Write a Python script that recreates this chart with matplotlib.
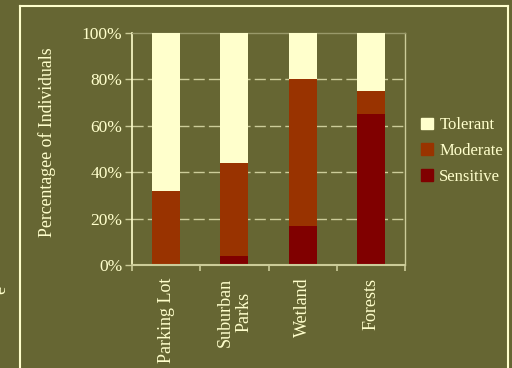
import matplotlib
matplotlib.use('Agg')
import matplotlib.pyplot as plt
import numpy as np
from matplotlib.lines import Line2D
from matplotlib.patches import Patch

plt.rcParams['font.family'] = ['Liberation Serif', 'DejaVu Serif']

sites = ['Parking Lot', 'Suburban\nParks', 'Wetland', 'Forests']
sensitive = [0, 4, 17, 65]
moderate = [32, 40, 63, 10]
tolerant = [68, 56, 20, 25]

bg = '#666633'
txt = '#FFFFCC'
c_tol = '#FFFFCC'
c_mod = '#993300'
c_sen = '#800000'
grid_c = '#CCCC99'

fig = plt.figure(figsize=(5.12, 3.68), dpi=100, facecolor=bg)
ax = fig.add_axes([132/512, 1-265/368, (405-132)/512, (265-33)/368])
ax.set_facecolor(bg)

x = np.arange(len(sites))
w = 0.41
sen = np.array(sensitive)
mod = np.array(moderate)
tol = np.array(tolerant)
ax.bar(x, sen, w, color=c_sen, zorder=3)
ax.bar(x, mod, w, bottom=sen, color=c_mod, zorder=3)
ax.bar(x, tol, w, bottom=sen + mod, color=c_tol, zorder=3)

ax.set_xlim(-0.5, 3.5)
ax.set_ylim(0, 100)
ax.set_yticks([0, 20, 40, 60, 80, 100])
ax.set_yticklabels(['0%', '20%', '40%', '60%', '80%', '100%'], fontsize=12.5, color=txt)
ax.set_xticks(x)
ax.set_xticklabels(sites, rotation=90, fontsize=13, color=txt, linespacing=1.15)
ax.set_xticks(np.arange(-0.5, 4, 1), minor=True)
ax.tick_params(axis='x', which='major', length=0, pad=9)
ax.tick_params(axis='x', which='minor', length=4, color=grid_c, width=1.2)
ax.tick_params(axis='y', length=5, color=grid_c, width=1, pad=2)

for v in [20, 40, 60, 80]:
    ax.axhline(v, color=grid_c, lw=1, ls=(0, (8, 3)), zorder=1)

ax.spines['left'].set_color(txt)
ax.spines['left'].set_linewidth(1.2)
ax.spines['bottom'].set_color(grid_c)
ax.spines['bottom'].set_linewidth(1.5)
ax.spines['bottom'].set_zorder(4)
ax.spines['right'].set_color(grid_c)
ax.spines['right'].set_linewidth(1)
ax.spines['top'].set_color('#99996a')
ax.spines['top'].set_linewidth(1)

fig.text(47/512, 1-142/368, 'Percentagee of Individuals', rotation=90,
         ha='center', va='center', fontsize=12.8, color=txt)

handles = [Patch(color=c_tol, label='Tolerant'),
           Patch(color=c_mod, label='Moderate'),
           Patch(color=c_sen, label='Sensitive')]
leg = fig.legend(handles=handles, loc='center left', bbox_to_anchor=(421/512, 1-151/368),
                 frameon=False, fontsize=12, labelcolor=txt, handlelength=0.7,
                 handleheight=0.7, handletextpad=0.4, labelspacing=0.58,
                 borderpad=0, borderaxespad=0)

# outer frame
fig.add_artist(Line2D([20/512, 20/512], [0, 1-6/368], color=txt, lw=1.5))
fig.add_artist(Line2D([508/512, 508/512], [0, 1-6/368], color=txt, lw=1.5))
fig.add_artist(Line2D([20/512, 508/512], [1-6/368, 1-6/368], color=txt, lw=1.5))

# clipped fragment at the left edge
fig.text(-8/512, 1-290/368, 'e', rotation=90, ha='left', va='center',
         fontsize=13, color=txt)

fig.savefig('out.png', dpi=100, facecolor=bg)
